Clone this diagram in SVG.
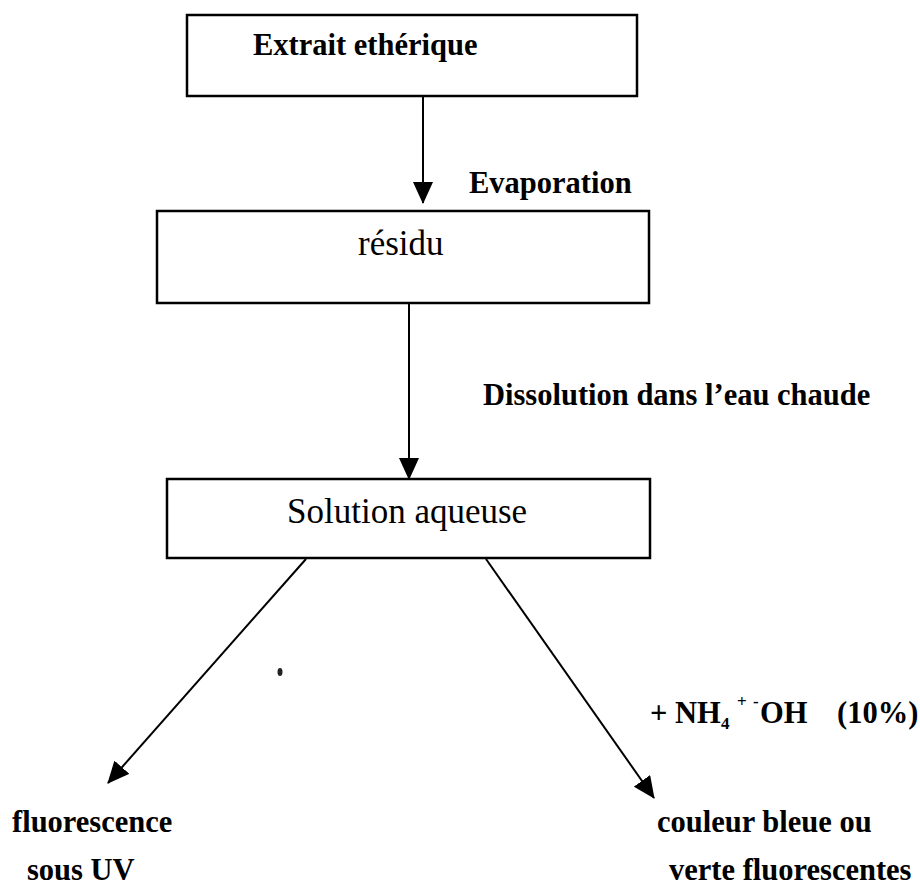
<svg xmlns="http://www.w3.org/2000/svg" width="920" height="888" viewBox="0 0 920 888">
<style>
.box{fill:#fff;stroke:#000;stroke-width:2.5}
.t{font-family:"Liberation Serif","Times New Roman",serif;fill:#000}
.b{font-weight:bold;font-size:30.5px}
.r{font-size:35px}
.s{font-weight:bold;font-size:17px}
.conn{stroke:#000;stroke-width:2;fill:none;marker-end:url(#ah)}
</style>
<defs>
<marker id="ah" viewBox="0 0 22 20" refX="21" refY="10" markerWidth="22" markerHeight="20" markerUnits="userSpaceOnUse" orient="auto">
<path d="M0,0 L22,10 L0,20 z" fill="#000"/>
</marker>
</defs>
<rect width="920" height="888" fill="#fff"/>
<g id="connectors">
<line class="conn" x1="423" y1="96" x2="423" y2="203"/>
<line class="conn" x1="409" y1="303" x2="409" y2="479"/>
<line class="conn" x1="306" y1="559" x2="108" y2="783"/>
<line class="conn" x1="486" y1="559" x2="654" y2="798"/>
<text class="t b" x="469" y="193">Evaporation</text>
<text class="t b" x="483" y="405">Dissolution dans l’eau chaude</text>
<g id="reagent">
<text class="t b" x="650" y="723">+ NH</text>
<text class="t s" x="721" y="729">4</text>
<text class="t s" x="737" y="707">+</text>
<text class="t s" x="753" y="707">-</text>
<text class="t b" x="760" y="723">OH</text>
<text class="t b" x="837" y="723">(10%)</text>
</g>
</g>
<g id="extrait">
<rect class="box" x="187" y="15" width="450" height="81"/>
<text class="t b" x="253" y="55">Extrait ethérique</text>
</g>
<g id="residu">
<rect class="box" x="157" y="211" width="492" height="92"/>
<text class="t r" x="358" y="255">résidu</text>
</g>
<g id="solution">
<rect class="box" x="167" y="479" width="483" height="79"/>
<text class="t r" x="287" y="523">Solution aqueuse</text>
</g>
<g id="fluorescence">
<text class="t b" x="12" y="832">fluorescence</text>
<text class="t b" x="27" y="880">sous UV</text>
</g>
<g id="couleur">
<text class="t b" x="657" y="832">couleur bleue ou</text>
<text class="t b" x="669" y="880">verte fluorescentes</text>
</g>
<ellipse cx="280" cy="672" rx="2.5" ry="4" fill="#222"/>
</svg>
